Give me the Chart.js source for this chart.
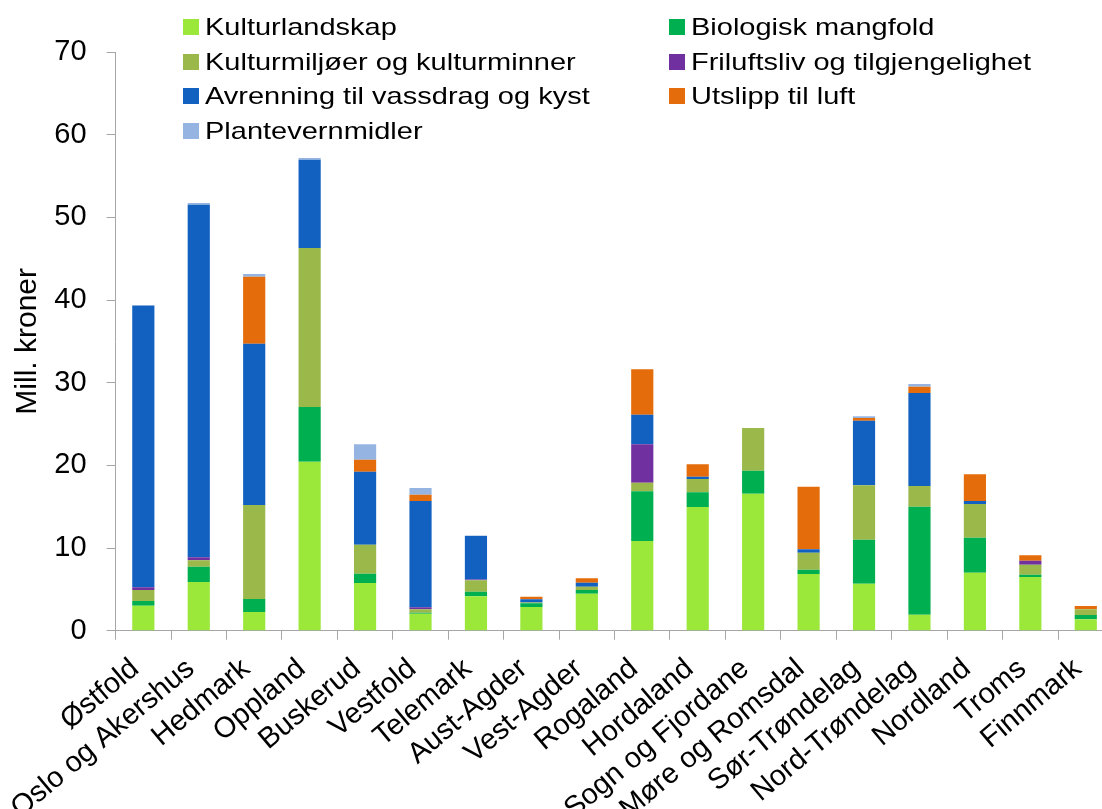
<!DOCTYPE html>
<html lang="no">
<head>
<meta charset="utf-8">
<title>Mill. kroner per fylke</title>
<script src="https://cdn.jsdelivr.net/npm/chart.js@4.4.1/dist/chart.umd.min.js"></script>
<style>
  html, body { margin: 0; padding: 0; background: #fff; overflow: hidden; }
  #wrap { position: relative; width: 1130px; height: 809px; }
  #chart { display: block; }
  .legend-item {
    position: absolute;
    height: 34px;
    display: flex;
    align-items: center;
    white-space: nowrap;
  }
  .legend-item .box { width: 16px; height: 16px; margin-right: 6px; }
  .legend-item .txt {
    font-family: 'Liberation Sans', Arial, sans-serif;
    font-size: 29px;
    line-height: 34px;
    color: #000;
    transform: scaleY(0.8);
  }
</style>
</head>
<body>
<div id="wrap">
  <canvas id="chart" width="1130" height="809"></canvas>
  <div id="legend"></div>
</div>
<script>
// --- Data (lest av figuren) ---
const fylker = [
  'Østfold', 'Oslo og Akershus', 'Hedmark', 'Oppland', 'Buskerud', 'Vestfold',
  'Telemark', 'Aust-Agder', 'Vest-Agder', 'Rogaland', 'Hordaland', 'Sogn og Fjordane',
  'Møre og Romsdal', 'Sør-Trøndelag', 'Nord-Trøndelag', 'Nordland', 'Troms', 'Finnmark'
];

const kulturlandskap = [3.02, 5.89, 2.26, 20.44, 5.77, 2.06, 4.16, 2.87, 4.48, 10.85, 14.96, 16.57, 6.86, 5.69, 1.94, 7.02, 6.5, 1.38];
const biologiskMangfold = [0.57, 1.85, 1.57, 6.62, 1.13, 0.1, 0.56, 0.44, 0.44, 6.01, 1.78, 2.78, 0.52, 5.32, 13.06, 4.23, 0.27, 0.52];
const kulturmiljoer = [1.33, 0.78, 11.37, 19.23, 3.5, 0.43, 1.38, 0.1, 0.4, 1.04, 1.61, 5.17, 2.06, 6.58, 2.5, 4.08, 1.21, 0.69];
const friluftsliv = [0.33, 0.36, 0, 0, 0, 0.24, 0.1, 0, 0, 4.65, 0, 0, 0, 0, 0, 0, 0.49, 0];
const avrenning = [34.06, 42.65, 19.52, 10.68, 8.83, 12.86, 5.26, 0.39, 0.48, 3.58, 0.28, 0, 0.4, 7.81, 11.25, 0.36, 0, 0];
const utslippLuft = [0, 0, 8.1, 0, 1.45, 0.76, 0, 0.32, 0.53, 5.49, 1.5, 0, 7.58, 0.33, 0.77, 3.23, 0.65, 0.4];
const plantevern = [0.09, 0.21, 0.33, 0.21, 1.87, 0.81, 0.05, 0, 0, 0, 0, 0, 0, 0.2, 0.32, 0, 0, 0];

const yTicks = [0, 10, 20, 30, 40, 50, 60, 70];

// Serier i stabelrekkefølge (nederst først)
const serier = [
  { navn: 'Kulturlandskap', data: kulturlandskap, farge: '#9BE83B' },
  { navn: 'Biologisk mangfold', data: biologiskMangfold, farge: '#00AF50' },
  { navn: 'Kulturmiljøer og kulturminner', data: kulturmiljoer, farge: '#9BB84A' },
  { navn: 'Friluftsliv og tilgjengelighet', data: friluftsliv, farge: '#7030A0' },
  { navn: 'Avrenning til vassdrag og kyst', data: avrenning, farge: '#1261C0' },
  { navn: 'Utslipp til luft', data: utslippLuft, farge: '#E46C0A' },
  { navn: 'Plantevernmidler', data: plantevern, farge: '#95B4E2' }
];

const FONT = "'Liberation Sans', Arial, sans-serif";
const AXIS_GREY = '#a6a6a6';

// --- Legende (to kolonner, som i originalen) ---
const legendEl = document.getElementById('legend');
serier.forEach((s, i) => {
  const col = i % 2;
  const row = Math.floor(i / 2);
  const item = document.createElement('div');
  item.className = 'legend-item';
  item.style.left = (col === 0 ? 183 : 669) + 'px';
  item.style.top = (27 + row * 34.5 - 17) + 'px';
  item.innerHTML = '<span class="box" style="background:' + s.farge + '"></span>' +
                   '<span class="txt"></span>';
  item.querySelector('.txt').textContent = s.navn;
  legendEl.appendChild(item);
});

// --- Diagram ---
const ctx = document.getElementById('chart');

new Chart(ctx, {
  type: 'bar',
  data: {
    labels: fylker,
    datasets: serier.map(s => ({
      label: s.navn,
      data: s.data,
      backgroundColor: s.farge,
      borderWidth: 0,
      barPercentage: 0.4,
      categoryPercentage: 1.0
    }))
  },
  options: {
    responsive: false,
    animation: false,
    layout: { padding: { top: 52, right: 16.5, left: 0, bottom: 0 } },
    plugins: {
      legend: { display: false },
      tooltip: { enabled: false }
    },
    scales: {
      x: {
        stacked: true,
        afterFit: (scale) => { scale.height = 178.3; },
        border: { color: AXIS_GREY, width: 1 },
        grid: {
          offset: true,
          drawOnChartArea: false,
          drawTicks: true,
          tickLength: 9,
          color: AXIS_GREY
        },
        ticks: {
          autoSkip: false,
          maxRotation: 40,
          minRotation: 40,
          padding: 12,
          labelOffset: -8,
          color: '#000',
          font: { family: FONT, size: 29 }
        }
      },
      y: {
        stacked: true,
        min: 0,
        max: 70,
        afterFit: (scale) => { scale.width = 115.6; },
        afterBuildTicks: (scale) => { scale.ticks = yTicks.map(v => ({ value: v })); },
        border: { color: AXIS_GREY, width: 1 },
        grid: {
          drawOnChartArea: false,
          drawTicks: true,
          tickLength: 9,
          color: AXIS_GREY
        },
        ticks: {
          padding: 20,
          color: '#000',
          font: { family: FONT, size: 29 }
        },
        title: {
          display: true,
          text: 'Mill. kroner',
          color: '#000',
          font: { family: FONT, size: 30 },
          padding: { top: 10, bottom: 0 }
        }
      }
    }
  }
});
</script>
</body>
</html>
